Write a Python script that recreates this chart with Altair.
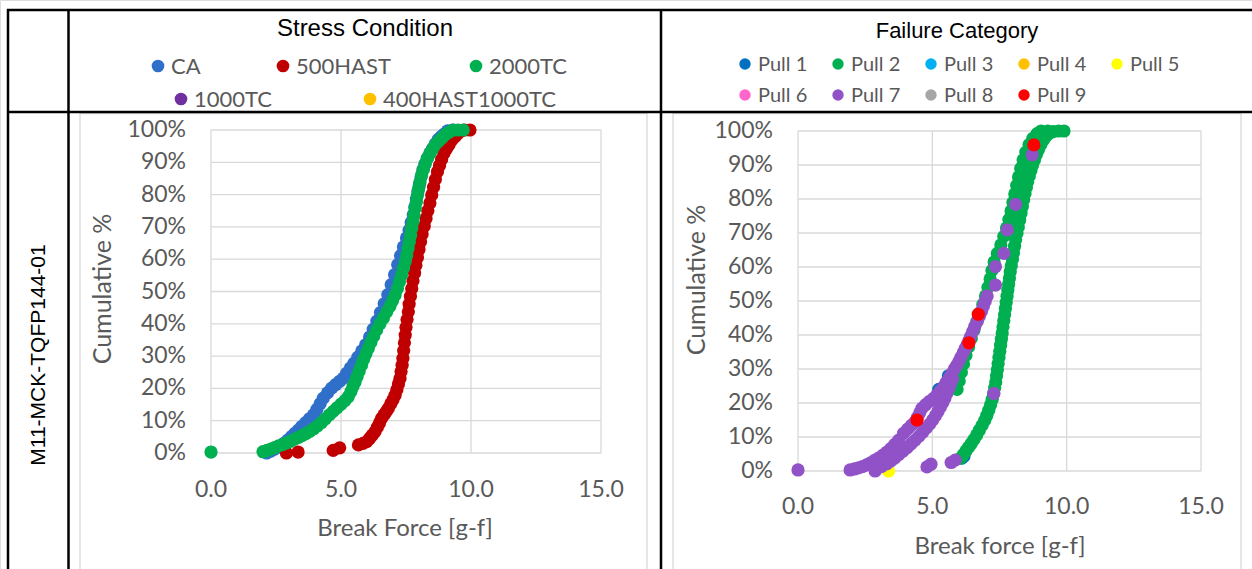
import altair as alt
import pandas as pd

# ---------------------------------------------------------------------------
# Data: (break force [g-f], cumulative %) for each series
# ---------------------------------------------------------------------------
CA = [(2.14, 0.0), (2.3, 0.6), (2.45, 1.2), (2.65, 2.0), (2.8, 3.0), (2.95, 4.0), (3.1, 5.1),
      (3.23, 6.1), (3.36, 7.1), (3.49, 8.2), (3.64, 9.4), (3.79, 10.6), (3.94, 11.8), (4.07, 13.5),
      (4.2, 15.3), (4.32, 17.0), (4.48, 18.6), (4.64, 20.1), (4.8, 21.2), (4.95, 22.2), (5.09, 23.2),
      (5.22, 24.7), (5.36, 26.3), (5.5, 27.8), (5.65, 29.7), (5.8, 31.6), (5.95, 33.5), (6.1, 35.9),
      (6.24, 38.3), (6.38, 40.8), (6.52, 43.5), (6.66, 46.2), (6.8, 49.0), (6.93, 52.1), (7.06, 55.2),
      (7.18, 58.3), (7.29, 61.1), (7.4, 63.8), (7.52, 66.6), (7.62, 69.0), (7.7, 71.4), (7.78, 73.8),
      (7.84, 76.2), (7.9, 78.6), (7.96, 81.0), (8.02, 83.2), (8.08, 85.5), (8.15, 87.7), (8.23, 89.4),
      (8.32, 91.2), (8.42, 92.9), (8.53, 94.3), (8.63, 95.7), (8.74, 97.1), (8.86, 98.0), (8.98, 98.8),
      (9.1, 99.7), (9.3, 100.0)]

HAST500 = [(2.9, 0.0), (3.35, 0.3), (4.7, 0.8), (4.95, 1.6), (5.67, 2.5), (5.85, 3.0), (5.99, 3.5),
           (6.1, 4.5), (6.2, 5.5), (6.31, 6.6), (6.4, 8.0), (6.48, 9.3), (6.56, 10.7), (6.65, 11.8),
           (6.74, 12.8), (6.82, 13.8), (6.91, 15.2), (7.0, 16.5), (7.08, 17.9), (7.15, 19.6), (7.21, 21.4),
           (7.27, 23.1), (7.31, 25.2), (7.35, 27.2), (7.38, 29.3), (7.41, 31.7), (7.44, 34.1), (7.47, 36.5),
           (7.5, 38.9), (7.54, 41.3), (7.59, 43.7), (7.62, 46.1), (7.67, 48.5), (7.72, 50.9), (7.77, 53.3),
           (7.83, 55.7), (7.88, 58.1), (7.94, 60.5), (8.0, 63.0), (8.06, 65.4), (8.12, 67.8), (8.2, 70.2),
           (8.27, 72.6), (8.34, 75.0), (8.42, 77.4), (8.49, 79.9), (8.56, 82.3), (8.63, 84.7), (8.71, 87.1),
           (8.79, 89.0), (8.87, 90.9), (8.96, 92.8), (9.06, 94.2), (9.16, 95.5), (9.26, 96.9), (9.37, 97.8),
           (9.47, 98.7), (9.58, 99.5), (9.75, 100.0), (9.96, 100.0)]

TC2000 = [(0.0, 0.3), (2.0, 0.4), (2.15, 0.8), (2.3, 1.2), (2.45, 1.7), (2.6, 2.2), (2.75, 2.6),
          (2.9, 3.1), (3.05, 3.6), (3.2, 4.2), (3.35, 4.8), (3.5, 5.4), (3.65, 6.0), (3.8, 6.7),
          (3.95, 7.5), (4.1, 8.4), (4.25, 9.4), (4.4, 10.6), (4.55, 11.8), (4.7, 12.9), (4.85, 14.0),
          (5.0, 15.1), (5.15, 16.2), (5.28, 17.4), (5.38, 19.0), (5.46, 20.6), (5.54, 22.0), (5.62, 23.7),
          (5.7, 25.4), (5.79, 27.2), (5.87, 29.0), (5.96, 30.7), (6.05, 32.4), (6.15, 34.3), (6.26, 36.2),
          (6.37, 38.1), (6.5, 40.0), (6.63, 41.8), (6.76, 43.7), (6.88, 45.4), (6.98, 47.1), (7.08, 48.9),
          (7.17, 50.9), (7.25, 53.0), (7.33, 55.1), (7.4, 57.2), (7.47, 59.2), (7.53, 61.3), (7.58, 63.4),
          (7.63, 65.4), (7.68, 67.5), (7.72, 69.6), (7.77, 71.6), (7.81, 73.7), (7.85, 75.8), (7.9, 77.8),
          (7.94, 79.9), (7.99, 82.0), (8.04, 84.0), (8.1, 86.1), (8.17, 87.8), (8.24, 89.6), (8.32, 91.3),
          (8.42, 92.7), (8.52, 94.1), (8.62, 95.4), (8.75, 96.5), (8.88, 97.5), (9.0, 98.5), (9.15, 99.3),
          (9.32, 100.0), (9.5, 100.0), (9.7, 100.0)]

PULL1 = [(6.1, 3.8), (6.18, 4.4), (5.24, 24.0), (5.6, 28.0)]

PULL2 = [(6.05, 3.8), (6.15, 4.8), (6.25, 5.9), (6.35, 7.0), (6.45, 8.1), (6.55, 9.3), (6.65, 10.6),
         (6.75, 12.0), (6.85, 13.4), (6.95, 14.9), (7.03, 16.4), (7.1, 17.9), (7.17, 19.5), (7.23, 21.1),
         (7.28, 22.8), (7.32, 24.5), (7.36, 26.2), (7.39, 28.0), (7.42, 29.8), (7.45, 31.6), (7.48, 33.4),
         (7.51, 35.2), (7.54, 37.0), (7.57, 38.8), (7.6, 40.6), (7.63, 42.4), (7.66, 44.2), (7.69, 46.0),
         (7.72, 47.8), (7.75, 49.6), (7.78, 51.4), (7.81, 53.2), (7.84, 55.0), (7.87, 56.8), (7.9, 58.6),
         (7.94, 60.4), (7.98, 62.3), (8.02, 64.2), (8.06, 66.1), (8.1, 68.0), (8.15, 69.9), (8.2, 71.8),
         (8.25, 73.8), (8.3, 75.8), (8.35, 77.8), (8.4, 79.8), (8.45, 81.6), (8.5, 83.4), (8.55, 85.1),
         (8.61, 86.8), (8.67, 88.4), (8.73, 90.0), (8.8, 91.5), (8.87, 93.0), (8.95, 94.5), (9.04, 96.0),
         (9.13, 97.3), (9.23, 98.4), (9.35, 99.3), (9.5, 99.8), (9.7, 100.0), (9.9, 100.0),
         (5.92, 24.0), (6.0, 26.5), (6.08, 29.0), (6.16, 31.5), (6.25, 34.0), (6.35, 36.5), (6.45, 39.0),
         (6.55, 41.5), (6.66, 44.0), (6.77, 46.5), (6.88, 49.0), (6.98, 51.5), (7.07, 54.0), (7.15, 56.5),
         (7.22, 59.0), (7.3, 61.5), (7.42, 64.0), (7.55, 66.5), (7.66, 69.0), (7.76, 71.5), (7.85, 74.0),
         (7.93, 76.5), (8.0, 79.0), (8.07, 81.5), (8.14, 84.0), (8.21, 86.5), (8.29, 89.0), (8.38, 91.5),
         (8.48, 93.8), (8.6, 96.0), (8.74, 97.8), (8.9, 99.2), (9.05, 100.0), (9.3, 100.0)]

PULL5 = [(3.37, 0.0)]

PULL7 = [(1.94, 0.3), (2.1, 0.6), (2.25, 0.9), (2.4, 1.3), (2.55, 1.8), (2.7, 2.4), (2.85, 3.1),
         (3.0, 3.8), (3.15, 4.6), (3.3, 5.5), (3.45, 6.6), (3.6, 7.8), (3.75, 9.1), (3.93, 11.1),
         (4.08, 12.3), (4.22, 13.4), (4.36, 14.5), (4.45, 15.8), (4.53, 17.1), (4.61, 18.4), (4.75, 19.5),
         (4.9, 20.5), (5.05, 21.4), (5.18, 22.5), (5.3, 23.6), (5.42, 24.8), (5.52, 26.1), (5.63, 27.4),
         (5.73, 28.7), (5.82, 30.0), (5.9, 31.0), (5.98, 32.1), (6.06, 33.4), (6.15, 34.8), (6.23, 36.1),
         (6.3, 37.2), (6.36, 38.3), (6.42, 39.5), (6.5, 41.0), (6.58, 42.5), (6.67, 44.0), (6.75, 45.5),
         (6.83, 47.0), (6.9, 48.5), (6.97, 50.0), (7.04, 51.5),
         (2.9, 0.6), (3.1, 1.3), (3.3, 2.1), (3.45, 2.9), (3.6, 3.8), (3.75, 4.8), (3.9, 5.8),
         (4.05, 6.8), (4.2, 7.9), (4.35, 9.0), (4.5, 10.2), (4.64, 11.4), (4.77, 12.6), (4.9, 13.8),
         (5.01, 15.0), (5.11, 16.2), (5.21, 17.5), (5.3, 18.8), (5.39, 20.1), (5.47, 21.5), (5.54, 22.9),
         (5.61, 24.3), (5.68, 25.7), (5.76, 27.1),
         (0.0, 0.3), (2.87, 0.0), (4.8, 1.2), (4.95, 2.0), (5.7, 2.5), (5.85, 3.2), (7.29, 22.8),
         (7.35, 54.7), (7.35, 60.1), (7.66, 64.0), (7.79, 70.9), (8.1, 78.4), (8.72, 93.0)]

PULL9 = [(4.43, 15.0), (6.36, 37.7), (6.71, 46.1), (8.78, 95.9)]

STRESS_NAMES = ["CA", "500HAST", "2000TC", "1000TC", "400HAST1000TC"]
STRESS_COLORS = ["#2F6FC9", "#C00000", "#00B050", "#7030A0", "#FFC000"]
PULL_NAMES = ["Pull 1", "Pull 2", "Pull 3", "Pull 4", "Pull 5", "Pull 6", "Pull 7", "Pull 8", "Pull 9"]
PULL_COLORS = ["#0070C0", "#00B050", "#00B0F0", "#FFC000", "#FFFF00", "#FF66CC", "#9152C8",
               "#A6A6A6", "#FF0000"]

X_TICKS = [0, 5, 10, 15]
Y_TICKS = [i / 10 for i in range(11)]

W, H = 1252, 569
GRID = "#d9d9d9"
INK = "#595959"
FONT = "Lato"
HEAD = "Liberation Sans"


def series_frame(series):
    rows = []
    for z, (name, pts) in enumerate(series):
        for f, c in pts:
            rows.append({"force": f, "cum": c / 100.0, "series": name, "z": z})
    return pd.DataFrame(rows)


def panel(df, names, colors, x_range, y_range, xlab_y, ylab_x):
    xs = alt.Scale(domain=[0, 15], range=x_range, nice=False, zero=False)
    ys = alt.Scale(domain=[0, 1], range=y_range, nice=False, zero=False)

    vgrid = alt.Chart(pd.DataFrame({"g": X_TICKS, "lo": 0.0, "hi": 1.0})).mark_rule(
        color=GRID, strokeWidth=1.3
    ).encode(
        x=alt.X("g:Q", scale=xs, axis=None),
        y=alt.Y("lo:Q", scale=ys, axis=None),
        y2="hi:Q",
    )
    hgrid = alt.Chart(pd.DataFrame({"g": Y_TICKS, "lo": 0.0, "hi": 15.0})).mark_rule(
        color=GRID, strokeWidth=1.3
    ).encode(
        y=alt.Y("g:Q", scale=ys, axis=None),
        x=alt.X("lo:Q", scale=xs, axis=None),
        x2="hi:Q",
    )
    # tick labels placed through the panel's own scales
    xlabels = alt.Chart(pd.DataFrame({"t": X_TICKS})).mark_text(
        font=FONT, fontSize=23, color=INK, align="center", baseline="middle"
    ).encode(
        x=alt.X("t:Q", scale=xs, axis=None),
        y=alt.value(xlab_y),
        text=alt.Text("t:Q", format=".1f"),
    )
    ylabels = alt.Chart(pd.DataFrame({"t": Y_TICKS})).mark_text(
        font=FONT, fontSize=23, color=INK, align="right", baseline="middle"
    ).encode(
        y=alt.Y("t:Q", scale=ys, axis=None),
        x=alt.value(ylab_x),
        text=alt.Text("t:Q", format=".0%"),
    )
    pts = alt.Chart(df).mark_circle(size=175, opacity=1).encode(
        x=alt.X("force:Q", scale=xs, axis=None),
        y=alt.Y("cum:Q", scale=ys, axis=None),
        color=alt.Color("series:N", scale=alt.Scale(domain=names, range=colors), legend=None),
        order=alt.Order("z:Q"),
    )
    return alt.layer(vgrid, hgrid, xlabels, ylabels, pts)


ONE = pd.DataFrame({"k": [0]})


def line(x1, y1, x2, y2, color="black", width=2.5):
    return alt.Chart(ONE).mark_rule(color=color, strokeWidth=width).encode(
        x=alt.value(x1), y=alt.value(y1), x2=alt.value(x2), y2=alt.value(y2)
    )


def box(x1, y1, x2, y2):
    return alt.Chart(ONE).mark_rect(stroke=GRID, strokeWidth=1.3, fillOpacity=0).encode(
        x=alt.value(x1), y=alt.value(y1), x2=alt.value(x2), y2=alt.value(y2)
    )


def label(txt, x, y, size=22, font=FONT, color=INK, angle=0, align="center"):
    return alt.Chart(ONE).mark_text(
        text=txt, font=font, fontSize=size, color=color, angle=angle, align=align, baseline="middle"
    ).encode(x=alt.value(x), y=alt.value(y))


def legend_item(name, color, x, y, size, fsize):
    dot = alt.Chart(ONE).mark_circle(size=size, opacity=1, color=color).encode(
        x=alt.value(x), y=alt.value(y)
    )
    return [dot, label(name, x + 13, y + 1, size=fsize, align="left")]


left_df = series_frame([("CA", CA), ("500HAST", HAST500), ("2000TC", TC2000)])
right_df = series_frame([("Pull 1", PULL1), ("Pull 2", PULL2), ("Pull 5", PULL5),
                         ("Pull 7", PULL7), ("Pull 9", PULL9)])

left_panel = panel(left_df, STRESS_NAMES, STRESS_COLORS, [211, 601], [453, 130], 490, 186)
right_panel = panel(right_df, PULL_NAMES, PULL_COLORS, [798, 1201], [471, 131], 507, 773)

decor = [
    box(80, 113.5, 647, 600),
    box(673, 113.5, 1241, 600),
    line(7, 10, W, 10),
    line(7, 112, W, 112),
    line(8, 9, 8, H + 5),
    line(68.5, 9, 68.5, H + 5),
    line(661, 9, 661, H + 5),
    label("M11-MCK-TQFP144-01", 39, 355, size=21, font=HEAD, color="black", angle=270),
    label("Stress Condition", 365, 29, size=24, font=HEAD, color="black"),
    label("Failure Category", 957, 31, size=22, font=HEAD, color="black"),
    label("Cumulative %", 103, 289, size=25, angle=270),
    label("Break Force [g-f]", 405, 529, size=24),
    label("Cumulative %", 697, 280, size=25, angle=270),
    label("Break force [g-f]", 1000, 547, size=24),
]

left_legend_pos = {"CA": (158, 66), "500HAST": (283, 66), "2000TC": (476, 66),
                   "1000TC": (181, 99), "400HAST1000TC": (370, 99)}
for name, color in zip(STRESS_NAMES, STRESS_COLORS):
    x, y = left_legend_pos[name]
    decor += legend_item(name, color, x, y, 160, 22)

for i, (name, color) in enumerate(zip(PULL_NAMES, PULL_COLORS)):
    col, row = i % 5, i // 5
    decor += legend_item(name, color, 745 + 93 * col, 64 + 31 * row, 130, 20)

chart = alt.layer(left_panel, right_panel, *decor).resolve_scale(
    x="independent", y="independent", color="independent"
).properties(
    width=W, height=H, autosize=alt.AutoSizeParams(type="none"), padding=0
).configure_view(stroke=None).configure(background="white")

chart.save("out.html", embed_options={"renderer": "svg", "actions": False})
